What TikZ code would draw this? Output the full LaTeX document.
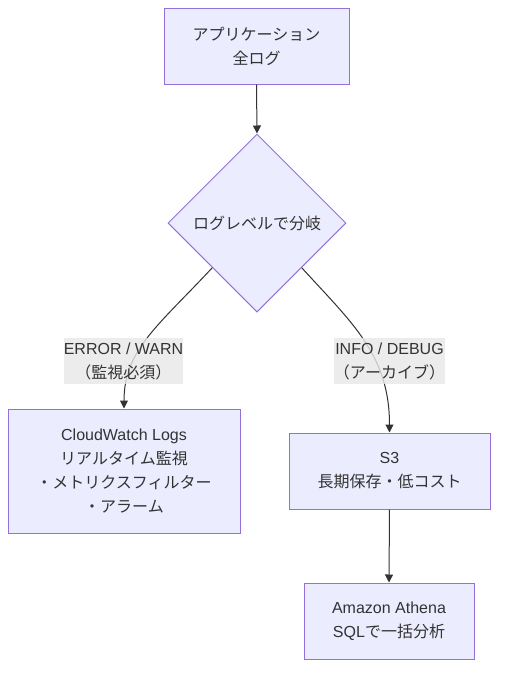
\documentclass[tikz,border=0pt]{standalone}
\usepackage{fontspec}
\setmainfont{Liberation Sans}
\newfontfamily\jp{Noto Sans CJK JP}
\usetikzlibrary{shapes.geometric,arrows.meta}
\definecolor{nodefill}{HTML}{ECECFF}
\definecolor{nodeline}{HTML}{9370DB}
\definecolor{ink}{HTML}{333333}
\definecolor{lblfill}{HTML}{E8E8E8}
\tikzset{
  box/.style={draw=nodeline, fill=nodefill, line width=1pt, align=center, text=ink, inner sep=0pt,
    font=\fontsize{16}{24}\selectfont},
  dia/.style={diamond, draw=nodeline, fill=nodefill, line width=1pt, align=center, text=ink, inner sep=0pt,
    minimum width=178pt, minimum height=178pt, font=\fontsize{16}{24}\selectfont},
  edge/.style={draw=ink, line width=1pt, -{Triangle[length=8pt,width=8pt]}},
  lbl/.style={fill=lblfill, fill opacity=0.8, text opacity=1, text=ink, align=center, inner sep=0pt,
    font=\fontsize{16}{24}\selectfont}
}
\begin{document}
\begin{tikzpicture}[x=1pt,y=-1pt]
\useasboundingbox[fill=white] (0,0) rectangle (506,678);
\node[box, minimum width=185pt, minimum height=76pt] (app) at (256.5,46) {{\jp アプリケーション}\\{\jp 全ログ}};
\node[dia] (br) at (257,223) {{\jp ログレベルで分岐}};
\node[box, minimum width=232pt, minimum height=124pt] (cw) at (124,471)
  {CloudWatch Logs\\{\jp リアルタイム監視}\\{\jp ・メトリクスフィルター}\\{\jp ・アラーム}};
\node[box, minimum width=201pt, minimum height=76pt] (s3) at (389.5,471) {S3\\{\jp 長期保存・低コスト}};
\node[box, minimum width=170pt, minimum height=76pt] (ath) at (389,621) {Amazon Athena\\SQL{\jp で一括分析}};
\draw[edge] (app.south) -- (br.north);
\draw[edge] (br.south west) .. controls (158,326) and (124,350) .. (cw.north);
\draw[edge] (br.south east) .. controls (352,323) and (389.5,355) .. (s3.north);
\draw[edge] (s3.south) -- (ath.north);
\node[lbl, minimum width=117pt, minimum height=46pt] (l1) at (123.5,361) {ERROR / WARN\\{\jp （監視必須）}};
\node[lbl, minimum width=109pt, minimum height=46pt] (l2) at (389.5,361) {INFO / DEBUG\\{\jp （アーカイブ）}};
\end{tikzpicture}
\end{document}
